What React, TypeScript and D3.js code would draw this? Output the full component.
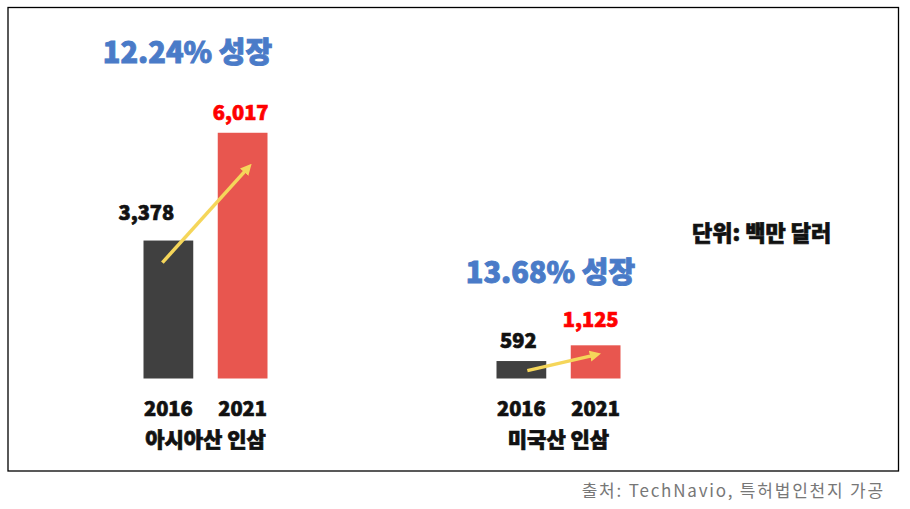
import React from "react";
import * as d3 from "d3";

// ---- data ----
const groups = ["아시아산 인삼", "미국산 인삼"];
const years = ["2016", "2021"];
const asiaValues = [3378, 6017];
const usValues = [592, 1125];
const growthLabels = ["12.24% 성장", "13.68% 성장"];
const unitLabel = "단위: 백만 달러";
const sourceLabel = "출처: TechNavio, 특허법인천지 가공";
// arrow start/end expressed as fraction of bar value
const arrowFrom = [0.84, 0.45];
const arrowTo = [0.86, 0.72];

const W = 910;
const H = 509;
const baseline = 378.5;
const colors = ["#404040", "#e8564f"];
const labelColors = ["#111111", "#ff0000"];
const blue = "#4a7bc8";
const arrowColor = "#f5d65a";
const FONT = "'Noto Sans CJK KR', 'Noto Sans', sans-serif";

export default function App() {
  const groupX = d3.scalePoint<string>().domain(groups).range([205.5, 558.5]);
  const inner = d3.scaleBand<string>().domain(years).range([-62, 62]).paddingInner(0.33);
  const yScales = [
    d3.scaleLinear().domain([0, 5950]).range([baseline, baseline - 243]),
    d3.scaleLinear().domain([0, 1000]).range([baseline, baseline - 29.5]),
  ];
  const values = [asiaValues, usValues];
  const bw = inner.bandwidth();
  const titleY = [63, 283];
  const titleDx = [-18, -8];
  const labelDx = [[-22, -2], [-3, -5]];
  const labelGap = [[21, 13], [13, 18]];
  const arrowDx0 = [-6, 6];
  const arrowDx1 = [6, 1];
  const heavy = (c: string, w = 0.7) => ({ stroke: c, strokeWidth: w, paintOrder: "stroke" as const });

  return (
    <div style={{ position: "absolute", left: 0, top: 0 }}>
      <svg width={W} height={H} style={{ display: "block", background: "#fff" }} fontFamily={FONT}>
        <defs>
          <marker id="ah" viewBox="0 0 10 10" refX="6" refY="5" markerWidth="3.2" markerHeight="3.2" orient="auto">
            <path d="M0,0 L10,5 L0,10 Z" fill={arrowColor} />
          </marker>
        </defs>
        <rect x={8} y={7.5} width={890.5} height={463.5} fill="none" stroke="#000" strokeWidth={1.3} />
        {groups.map((g, gi) => {
          const cx = groupX(g)!;
          const ys = yScales[gi];
          const vals = values[gi];
          const x0 = cx + inner(years[0])! + bw / 2;
          const x1 = cx + inner(years[1])! + bw / 2;
          return (
            <g key={g}>
              {years.map((yr, i) => {
                const x = cx + inner(yr)!;
                const top = ys(vals[i]);
                return (
                  <g key={yr}>
                    <rect x={x} y={top} width={bw} height={baseline - top} fill={colors[i]} />
                    <text
                      x={x + bw / 2 + labelDx[gi][i]}
                      y={top - labelGap[gi][i]}
                      textAnchor="middle"
                      fontSize={20}
                      fontWeight={900}
                      fill={labelColors[i]}
                      {...heavy(labelColors[i])}
                    >
                      {d3.format(",")(vals[i])}
                    </text>
                    <text
                      x={x + bw / 2}
                      y={416}
                      textAnchor="middle"
                      fontSize={20}
                      fontWeight={900}
                      fill="#111"
                      {...heavy("#111")}
                    >
                      {yr}
                    </text>
                  </g>
                );
              })}
              <line
                x1={x0 + arrowDx0[gi]}
                y1={ys(vals[0] * arrowFrom[gi])}
                x2={x1 + arrowDx1[gi]}
                y2={ys(vals[1] * arrowTo[gi])}
                stroke={arrowColor}
                strokeWidth={3.5}
                markerEnd="url(#ah)"
              />
              <text
                x={cx}
                y={447}
                textAnchor="middle"
                fontSize={21}
                fontWeight={900}
                fill="#111"
                {...heavy("#111")}
              >
                {g}
              </text>
              <text
                x={cx + titleDx[gi]}
                y={titleY[gi]}
                textAnchor="middle"
                fontSize={29}
                fontWeight={900}
                fill={blue}
                {...heavy(blue, 0.9)}
              >
                {growthLabels[gi]}
              </text>
            </g>
          );
        })}
        <text x={692} y={241} fontSize={22} fontWeight={900} fill="#111" {...heavy("#111")}>
          {unitLabel}
        </text>
        <text x={885} y={497} textAnchor="end" fontSize={17} fontWeight={400} fill="#777" letterSpacing={1.8}>
          {sourceLabel}
        </text>
      </svg>
    </div>
  );
}
